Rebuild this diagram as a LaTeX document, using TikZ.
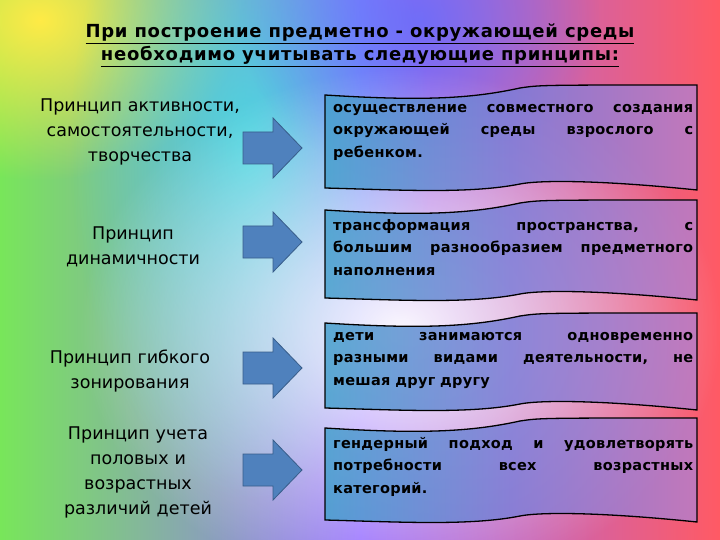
\documentclass[tikz,border=0pt]{standalone}
\usepackage{fontspec}
\setmainfont{DejaVu Sans}
\usetikzlibrary{fadings}
\tikzfading[name=midfade, inner color=transparent!0, outer color=transparent!100]
\tikzset{
  barrow/.style={fill={rgb,255:red,79;green,129;blue,189}, draw={rgb,255:red,56;green,93;blue,138}, line width=0.8pt},
  wavebox/.style={left color={rgb,255:red,70;green,160;blue,205}, right color={rgb,255:red,185;green,125;blue,200}, middle color={rgb,255:red,125;green,125;blue,215}, draw=black, line width=1.3pt, fill opacity=0.85},
  lbl/.style={align=center, font=\fontsize{17.5}{25}\selectfont, text width=240pt},
  btxt/.style={align=left, font=\bfseries\fontsize{14.5}{22.5}\selectfont\addfontfeature{LetterSpace=2}, text width=360pt, anchor=north west, inner sep=0pt}
}
\newcommand{\jl}[1]{\makebox[360pt]{#1}}
\newcommand{\wbox}[3]{% name, top y, bottom y
  \draw[wavebox] (325,#2+10) .. controls (420,#2+16) and (470,#2+14) .. (520,#2+3) .. controls (540,#2) .. (697,#2)
   -- (697,#3) .. controls (600,#3-10) and (540,#3-10) .. (520,#3-6) .. controls (470,#3+4) and (400,#3) .. (325,#3-2) -- cycle;
  \coordinate (#1) at (333,#2+19);
}
\newcommand{\barr}[2]{% name, centre y
  \draw[barrow] (243,#2-16) -- (273,#2-16) -- (273,#2-30) -- (302,#2) -- (273,#2+30) -- (273,#2+16) -- (243,#2+16) -- cycle;
  \coordinate (#1) at (272,#2);
}
\begin{document}
\begin{tikzpicture}[x=1pt,y=-1pt]
\useasboundingbox (0,0) rectangle (720,540);
\shade[left color={rgb,255:red,120;green,230;blue,90}, right color={rgb,255:red,255;green,90;blue,100}, middle color={rgb,255:red,150;green,110;blue,255}] (0,0) rectangle (720,540);
\fill[fill={rgb,255:red,255;green,235;blue,70}, path fading=midfade] (40,20) ellipse (200 and 160);
\fill[fill={rgb,255:red,60;green,230;blue,230}, path fading=midfade, opacity=0.8] (250,150) ellipse (180 and 350);
\fill[fill={rgb,255:red,90;green,110;blue,255}, path fading=midfade, opacity=0.7] (420,20) ellipse (180 and 160);
\fill[white, path fading=midfade, opacity=0.95] (400,330) ellipse (320 and 260);
\node[align=center, font=\bfseries\fontsize{18}{23}\selectfont\addfontfeature{LetterSpace=4}] (title) at (360,45) {\underline{При построение предметно - окружающей среды}\\ \underline{необходимо учитывать следующие принципы:}};
\node[lbl] (l1) at (140,132) {Принцип активности,\\самостоятельности,\\творчества};
\node[lbl] (l2) at (133,247) {Принцип\\динамичности};
\node[lbl] (l3) at (130,371) {Принцип гибкого\\зонирования};
\node[lbl] (l4) at (138,472) {Принцип учета\\половых и\\возрастных\\различий детей};
\barr{a1}{148}
\barr{a2}{242}
\barr{a3}{368}
\barr{a4}{470}
\wbox{b1}{85}{190}
\wbox{b2}{200}{300}
\wbox{b3}{313}{410}
\wbox{b4}{418}{522}
\node[btxt] (t1) at (b1) {\jl{осуществление\hfill совместного\hfill создания}\\\jl{окружающей\hfill среды\hfill взрослого\hfill с}\\ребенком.};
\node[btxt] (t2) at (b2) {\jl{трансформация\hfill пространства,\hfill с}\\\jl{большим\hfill разнообразием\hfill предметного}\\наполнения};
\node[btxt] (t3) at (b3) {\jl{дети\hfill занимаются\hfill одновременно}\\\jl{разными\hfill видами\hfill деятельности,\hfill не}\\мешая друг другу};
\node[btxt] (t4) at (b4) {\jl{гендерный\hfill подход\hfill и\hfill удовлетворять}\\\jl{потребности\hfill всех\hfill возрастных}\\категорий.};
\end{tikzpicture}
\end{document}
